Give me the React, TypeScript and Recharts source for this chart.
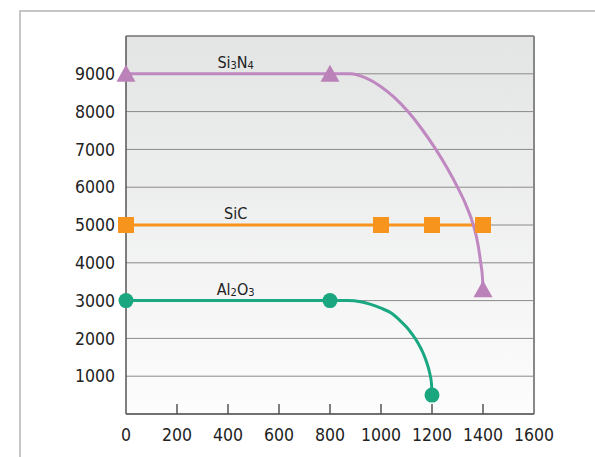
import React from "react";
import { CartesianGrid, ComposedChart, Line, ReferenceDot, ReferenceLine, Scatter, XAxis, YAxis } from "recharts";

// temperature (x) vs strength (y)
const xTicks = [0, 200, 400, 600, 800, 1000, 1200, 1400, 1600];
const yTicks = [1000, 2000, 3000, 4000, 5000, 6000, 7000, 8000, 9000];

const si3n4X = [0, 800, 880, 940, 1000, 1050, 1106, 1160, 1215, 1260, 1300, 1335, 1362, 1380, 1391, 1398, 1400];
const si3n4Y = [9000, 9000, 9000, 8890, 8660, 8390, 8000, 7540, 7000, 6500, 6000, 5500, 5000, 4500, 4000, 3600, 3300];
const si3n4MarkX = [0, 800, 1400];
const si3n4MarkY = [9000, 9000, 3300];

const sicX = [0, 1000, 1200, 1400];
const sicY = [5000, 5000, 5000, 5000];

const al2o3X = [0, 800, 870, 920, 960, 1000, 1040, 1075, 1100, 1120, 1145, 1166, 1180, 1192, 1198, 1200];
const al2o3Y = [3000, 3000, 3000, 2970, 2900, 2800, 2670, 2470, 2300, 2130, 1880, 1600, 1350, 1050, 800, 500];
const al2o3MarkX = [0, 800, 1200];
const al2o3MarkY = [3000, 3000, 500];

const labelX = 430;

const FONT = "'DejaVu Sans Condensed', 'DejaVu Sans', sans-serif";
const X_MARGIN = 15;

const zip = (xs: number[], ys: number[]) => xs.map((x, i) => ({ x, y: ys[i] }));

const si3n4Line = zip(si3n4X, si3n4Y);
const si3n4Marks = zip(si3n4MarkX, si3n4MarkY);
const sicLine = zip(sicX, sicY);
const al2o3Line = zip(al2o3X, al2o3Y);
const al2o3Marks = zip(al2o3MarkX, al2o3MarkY);

const Triangle = (p: any) => (
  <polygon points={`${p.cx},${p.cy - 9} ${p.cx - 9.5},${p.cy + 8} ${p.cx + 9.5},${p.cy + 8}`} fill="#bb82b9" />
);
const Square = (p: any) => <rect x={p.cx - 8} y={p.cy - 8} width={16} height={16} fill="#f7941d" />;
const Circle = (p: any) => <circle cx={p.cx} cy={p.cy} r={7.5} fill="#1aa77f" />;

const XTick = (p: any) => {
  const axisY = p.y - X_MARGIN;
  const v = p.payload.value;
  return (
    <g>
      {v > 0 && v < 1600 && <line x1={p.x} x2={p.x} y1={axisY} y2={axisY - 10} stroke="#555" strokeWidth={1.5} />}
      <text x={p.x} y={p.y} dy="0.71em" textAnchor="middle" fill="#222" fontSize={17.5} fontFamily={FONT}>
        {v}
      </text>
    </g>
  );
};

const makeLabel = (parts: Array<[string, boolean]>) => (p: any) => (
  <text x={p.cx} y={p.cy - 6} textAnchor="middle" fill="#222" fontSize={16} fontFamily={FONT}>
    {parts.map(([t, sub], i) => (
      <tspan key={i} fontSize={sub ? 11 : 16} dy={sub ? 1 : i > 0 ? -1 : 0}>
        {t}
      </tspan>
    ))}
  </text>
);

export default function App() {
  return (
    <div style={{ position: "absolute", left: 0, top: 0, width: 595, height: 457, background: "#fff" }}>
      <div style={{ position: "absolute", left: 19, top: 10, width: 600, height: 500, borderTop: "2px solid #c6c6c6", borderLeft: "2px solid #c6c6c6" }} />
      <ComposedChart
        width={595}
        height={457}
        margin={{ top: 36, right: 61, bottom: 0, left: 0 }}
        style={{ position: "absolute", left: 0, top: 0, fontFamily: FONT }}
      >
        <defs>
          <linearGradient id="plotBg" x1="0" y1="0" x2="0" y2="1">
            <stop offset="0%" stopColor="#e3e4e4" />
            <stop offset="100%" stopColor="#fdfdfd" />
          </linearGradient>
        </defs>
        <CartesianGrid vertical={false} stroke="#8a8a8a" fill="url(#plotBg)" fillOpacity={1} />
        <XAxis
          type="number"
          dataKey="x"
          domain={[0, 1600]}
          ticks={xTicks}
          height={43}
          tickSize={0}
          tickMargin={X_MARGIN}
          tickLine={false}
          axisLine={{ stroke: "#555", strokeWidth: 1.5 }}
          tick={<XTick />}
          interval={0}
        />
        <YAxis
          type="number"
          dataKey="y"
          domain={[0, 10000]}
          ticks={yTicks}
          width={126}
          tickSize={0}
          tickMargin={11}
          tickLine={false}
          axisLine={{ stroke: "#555", strokeWidth: 1.5 }}
          tick={{ fill: "#222", fontSize: 17.5, fontFamily: FONT }}
          interval={0}
        />
        <ReferenceLine y={10000} stroke="#666" strokeWidth={1} />
        <ReferenceLine x={1600} stroke="#888" strokeWidth={2} />

        <Line data={al2o3Line} dataKey="y" type="monotone" stroke="#1aa882" strokeWidth={3} dot={false} activeDot={false} isAnimationActive={false} />
        <Line data={sicLine} dataKey="y" type="linear" stroke="#f7941d" strokeWidth={3} dot={false} activeDot={false} isAnimationActive={false} />
        <Line data={si3n4Line} dataKey="y" type="monotone" stroke="#c088c0" strokeWidth={3} dot={false} activeDot={false} isAnimationActive={false} />

        <Scatter data={al2o3Marks} dataKey="y" shape={Circle} isAnimationActive={false} />
        <Scatter data={sicLine} dataKey="y" shape={Square} isAnimationActive={false} />
        <Scatter data={si3n4Marks} dataKey="y" shape={Triangle} isAnimationActive={false} />

        <ReferenceDot x={labelX} y={9000} r={0} shape={makeLabel([["Si", false], ["3", true], ["N", false], ["4", true]])} />
        <ReferenceDot x={labelX} y={5000} r={0} shape={makeLabel([["SiC", false]])} />
        <ReferenceDot x={labelX} y={3000} r={0} shape={makeLabel([["Al", false], ["2", true], ["O", false], ["3", true]])} />
      </ComposedChart>
    </div>
  );
}
